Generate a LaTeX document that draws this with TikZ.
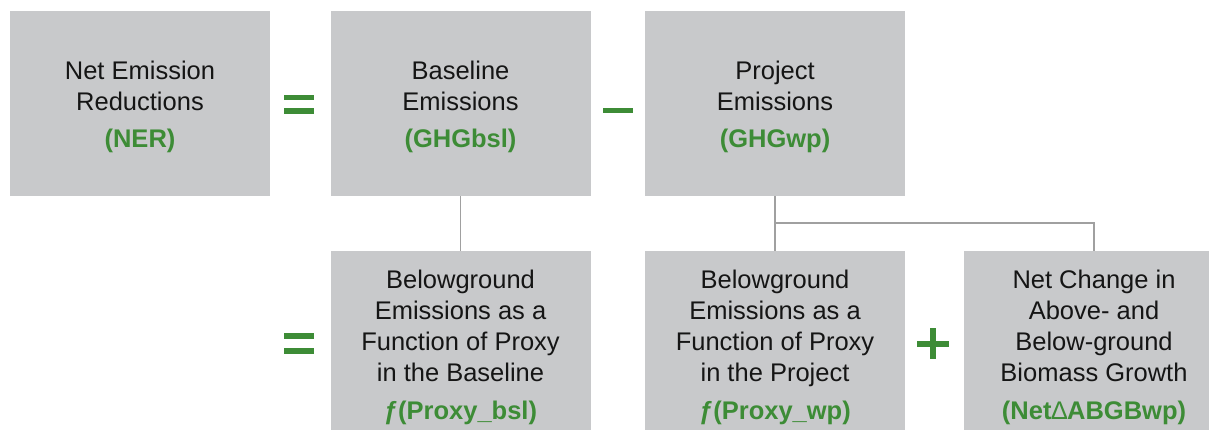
\documentclass[tikz,border=0pt]{standalone}
\usepackage{fontspec}
\setmainfont{Liberation Sans}
\definecolor{boxgray}{HTML}{C8C9CB}
\definecolor{opgreen}{HTML}{3D8C36}
\definecolor{linegray}{HTML}{A0A0A0}
\definecolor{txt}{HTML}{151515}
\begin{document}
\begin{tikzpicture}[x=1pt,y=1pt,
  box/.style={rectangle,fill=boxgray,minimum width=260pt,minimum height=185pt,inner sep=0pt,
    align=center,text=txt,font=\fontsize{25.5}{31}\selectfont},
  conn/.style={draw=linegray,line width=1.4pt},
  opbar/.style={fill=opgreen,draw=none}]
\useasboundingbox (0,0) rectangle (1209,-430);
\newcommand{\gr}[1]{\textcolor{opgreen}{\bfseries #1}}
\newcommand{\st}{\rule{0pt}{25.5pt}}
\node[box] (ner) at (140,-103.5) {\st Net Emission\\Reductions\\[6pt]\gr{(NER)}};
\node[box] (bsl) at (460.5,-103.5) {\st Baseline\\Emissions\\[6pt]\gr{(GHGbsl)}};
\node[box] (wp) at (775,-103.5) {\st Project\\Emissions\\[6pt]\gr{(GHGwp)}};
\node[box] (pbsl) at (460.5,-343.5) {\st Belowground\\Emissions as a\\Function of Proxy\\in the Baseline\\[7pt]\gr{ƒ(Proxy\_bsl)}};
\node[box] (pwp) at (775,-343.5) {\st Belowground\\Emissions as a\\Function of Proxy\\in the Project\\[7pt]\gr{ƒ(Proxy\_wp)}};
\node[box] (abg) at (1094,-343.5) {\st Net Change in\\Above- and\\Below-ground\\Biomass Growth\\[7pt]\gr{(Net{\mdseries ∆}ABGBwp)}};
\coordinate (j) at (775,-223);
\draw[conn] (bsl.south) -- (pbsl.north);
\draw[conn] (wp.south) -- (pwp.north);
\draw[conn] (j) -| (abg.north);
% operators
\fill[opbar] (284,-95) rectangle (314,-100.5);
\fill[opbar] (284,-108.5) rectangle (314,-114);
\fill[opbar] (603,-108.5) rectangle (633,-113.5);
\fill[opbar] (284,-333) rectangle (314,-338.5);
\fill[opbar] (284,-348) rectangle (314,-353.5);
\fill[opbar] (917,-341) rectangle (949,-346.5);
\fill[opbar] (930.2,-328) rectangle (935.7,-359);
\end{tikzpicture}
\end{document}
